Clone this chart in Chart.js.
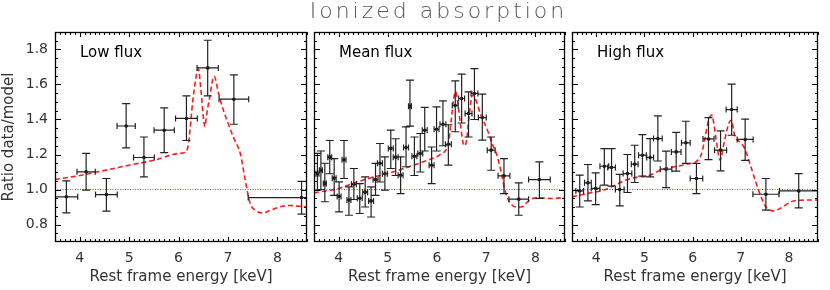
<!DOCTYPE html>
<html>
<head>
<meta charset="utf-8">
<script src="https://cdn.jsdelivr.net/npm/chart.js@4.4.1/dist/chart.umd.min.js"></script>
<style>
body{margin:0;background:#fff;width:830px;height:290px;position:relative;overflow:hidden;font-family:"DejaVu Sans",sans-serif}
#title{position:absolute;left:55px;width:767px;top:-2px;text-align:center;font-size:22px;letter-spacing:3px;color:#555;font-weight:300;will-change:transform}
canvas{position:absolute;top:0}
</style>
</head>
<body>
<div id="title">Ionized absorption</div>
<canvas id="p1" width="311" height="290" style="left:0"></canvas>
<canvas id="p2" width="259" height="290" style="left:310px"></canvas>
<canvas id="p3" width="254" height="290" style="left:568px"></canvas>
<script>
// ===== AXES =====
const xTicks=[4,5,6,7,8];
const yTicks=[0.8,1.0,1.2,1.4,1.6,1.8];
const xMin=3.5,xMax=8.6,yMin=0.7,yMax=1.9;
const unity=1.0;

// ===== LOW FLUX =====
const lowE =[3.73,4.13,4.54,4.94,5.30,5.71,6.16,6.59,7.12,8.49];
const lowR =[0.958,1.101,0.971,1.363,1.183,1.339,1.406,1.695,1.516,0.954];
const lowLo=[0.866,0.996,0.876,1.238,1.072,1.211,1.280,1.535,1.373,0.859];
const lowHi=[1.049,1.206,1.063,1.491,1.300,1.466,1.535,1.853,1.655,1.047];
const lowW =[0.23,0.185,0.22,0.185,0.21,0.205,0.22,0.215,0.30,1.08];
const lowModelE=[3.5,3.9,4.2,4.6,5.0,5.5,6.0,6.15,6.2,6.29,6.36,6.4,6.45,6.5,6.53,6.58,6.62,6.72,6.81,6.9,6.98,7.08,7.14,7.25,7.35,7.45,7.55,7.71,7.85,8.04,8.24,8.4,8.6];
const lowModelR=[1.057,1.075,1.091,1.115,1.139,1.167,1.206,1.215,1.26,1.51,1.65,1.69,1.58,1.42,1.36,1.45,1.51,1.647,1.549,1.46,1.396,1.32,1.28,1.206,1.053,0.92,0.882,0.866,0.88,0.9,0.909,0.905,0.9];

// ===== MEAN FLUX =====
const meanE =[3.57,3.64,3.72,3.82,3.91,4.01,4.11,4.21,4.31,4.43,4.54,4.66,4.75,4.84,4.94,5.06,5.16,5.26,5.37,5.45,5.54,5.66,5.75,5.89,5.99,6.12,6.23,6.37,6.50,6.64,6.76,6.92,7.10,7.36,7.66,8.08];
const meanR =[1.09,1.11,1.035,1.185,1.065,0.96,1.17,0.94,1.03,0.95,0.985,0.935,1.057,1.15,1.09,1.235,1.185,1.082,1.24,1.476,1.19,1.206,1.339,1.139,1.344,1.373,1.258,1.48,1.52,1.434,1.549,1.411,1.225,1.078,0.945,1.057];
const meanLo=[0.996,1.0,0.93,1.09,0.967,0.872,1.063,0.853,0.943,0.863,0.9,0.843,0.967,1.043,0.996,1.12,1.08,0.977,1.13,1.362,1.08,1.1,1.22,1.034,1.22,1.25,1.139,1.33,1.38,1.30,1.40,1.282,1.11,0.977,0.853,0.949];
const meanHi=[1.206,1.22,1.15,1.28,1.177,1.044,1.28,1.015,1.12,1.034,1.072,1.015,1.149,1.263,1.186,1.339,1.29,1.186,1.358,1.625,1.3,1.32,1.469,1.243,1.472,1.506,1.37,1.621,1.659,1.558,1.691,1.545,1.30,1.177,1.038,1.158];
const meanW =[0.03,0.03,0.03,0.04,0.04,0.04,0.04,0.04,0.05,0.05,0.05,0.05,0.05,0.05,0.05,0.05,0.05,0.05,0.05,0.03,0.05,0.05,0.05,0.05,0.05,0.06,0.06,0.06,0.06,0.07,0.07,0.08,0.08,0.12,0.2,0.22];
const meanModelE=[3.5,3.6,4.0,4.32,4.72,4.99,5.39,5.72,6.01,6.09,6.18,6.24,6.29,6.34,6.38,6.42,6.47,6.55,6.6,6.65,6.72,6.76,6.88,7.05,7.12,7.2,7.26,7.31,7.38,7.45,7.61,7.71,7.88,8.01,8.34,8.6];
const meanModelR=[0.98,0.986,1.006,1.038,1.072,1.091,1.126,1.158,1.19,1.206,1.225,1.28,1.4,1.52,1.56,1.5,1.386,1.25,1.28,1.415,1.54,1.53,1.434,1.32,1.26,1.21,1.15,1.091,0.996,0.939,0.9,0.9,0.94,0.952,0.949,0.954];

// ===== HIGH FLUX =====
const highE =[3.66,3.83,3.99,4.17,4.32,4.49,4.65,4.80,4.96,5.12,5.28,5.45,5.66,5.86,6.08,6.33,6.58,6.81,7.09,7.52,8.20];
const highR =[0.992,1.038,1.006,1.133,1.126,1.000,1.091,1.145,1.196,1.183,1.291,1.116,1.215,1.267,1.063,1.289,1.225,1.457,1.286,0.973,0.992];
const highLo=[0.90,0.935,0.914,1.025,1.019,0.906,0.983,1.04,1.076,1.072,1.163,1.011,1.105,1.149,0.977,1.171,1.106,1.31,1.167,0.882,0.895];
const highHi=[1.082,1.143,1.095,1.234,1.234,1.087,1.2,1.253,1.314,1.291,1.421,1.219,1.326,1.39,1.149,1.411,1.335,1.602,1.402,1.063,1.091];
const highW =[0.08,0.07,0.09,0.09,0.08,0.09,0.09,0.07,0.08,0.07,0.09,0.12,0.1,0.09,0.13,0.115,0.125,0.115,0.165,0.27,0.4];
const highModelE=[3.5,3.7,3.89,4.15,4.35,4.58,4.82,5.08,5.38,5.68,5.95,6.1,6.18,6.25,6.33,6.4,6.45,6.52,6.57,6.65,6.75,6.8,6.88,6.98,7.08,7.21,7.32,7.42,7.52,7.68,7.81,8.04,8.21,8.6];
const highModelR=[0.958,0.97,0.981,0.996,1.019,1.05,1.069,1.078,1.116,1.133,1.149,1.165,1.2,1.282,1.396,1.425,1.358,1.225,1.167,1.263,1.377,1.396,1.3,1.272,1.234,1.129,1.034,0.958,0.9,0.878,0.891,0.929,0.939,0.94];

// ===== FRAME, TICKS, ERROR BARS =====
const panelPlugin={
  id:'panel',
  afterDatasetsDraw(chart,args,opts){
    const {ctx,chartArea:a,scales:{x,y}}=chart;
    ctx.save();
    ctx.beginPath();ctx.rect(a.left,a.top,a.width,a.height);ctx.clip();
    chart.data.datasets.forEach(ds=>{
      if(!ds.errLo)return;
      ctx.strokeStyle='#222';ctx.lineWidth=1.2;ctx.beginPath();
      ds.data.forEach((p,i)=>{
        const px=x.getPixelForValue(p.x),py=y.getPixelForValue(p.y);
        const lo=y.getPixelForValue(ds.errLo[i]),hi=y.getPixelForValue(ds.errHi[i]);
        const xl=x.getPixelForValue(p.x-ds.errW[i]),xr=x.getPixelForValue(p.x+ds.errW[i]);
        ctx.moveTo(px,hi);ctx.lineTo(px,lo);
        ctx.moveTo(px-4,hi);ctx.lineTo(px+4,hi);
        ctx.moveTo(px-4,lo);ctx.lineTo(px+4,lo);
        ctx.moveTo(xl,py);ctx.lineTo(xr,py);
        ctx.moveTo(xl,py-3);ctx.lineTo(xl,py+3);
        ctx.moveTo(xr,py-3);ctx.lineTo(xr,py+3);
      });
      ctx.stroke();
    });
    ctx.restore();

    ctx.save();
    ctx.strokeStyle='#000';ctx.lineWidth=1.3;
    ctx.strokeRect(a.left+0.5,a.top+0.5,a.width-1,a.height-1);
    ctx.lineWidth=1.1;
    ctx.beginPath();
    for(let k=Math.ceil(xMin*10);k<=Math.floor(xMax*10);k++){
      const px=Math.round(x.getPixelForValue(k/10))+0.5;
      const len=k%10===0?5:3;
      ctx.moveTo(px,a.bottom);ctx.lineTo(px,a.bottom-len);
      ctx.moveTo(px,a.top);ctx.lineTo(px,a.top+len);
    }
    for(let k=Math.round(yMin*20)+1;k<Math.round(yMax*20);k++){
      const py=Math.round(y.getPixelForValue(k/20))+0.5;
      const len=k%4===0?6:3;
      ctx.moveTo(a.left,py);ctx.lineTo(a.left+len,py);
      ctx.moveTo(a.right,py);ctx.lineTo(a.right-len,py);
    }
    ctx.stroke();
    ctx.fillStyle='#000';ctx.font='15px "DejaVu Sans"';ctx.textBaseline='middle';
    ctx.fillText(opts.label,a.left+25,a.top+21);
    ctx.restore();
  }
};

function pts(xs,ys){return xs.map((v,i)=>({x:v,y:ys[i]}));}

function makePanel(id,label,E,R,Lo,Hi,W,mE,mR,showY){
  return new Chart(document.getElementById(id),{
    type:'scatter',
    data:{datasets:[
      {type:'line',data:[{x:xMin,y:unity},{x:xMax,y:unity}],borderColor:'#5a5ad2',borderWidth:1,borderDash:[1,1.5],pointRadius:0},
      {type:'line',data:pts(mE,mR),borderColor:'#ff1a1a',borderWidth:1.6,borderDash:[5,3],pointRadius:0,cubicInterpolationMode:'monotone'},
      {type:'scatter',data:pts(E,R),errLo:Lo,errHi:Hi,errW:W,pointRadius:1.8,pointBackgroundColor:'#000',pointBorderWidth:0}
    ]},
    options:{
      responsive:false,animation:false,devicePixelRatio:1,
      layout:{padding:{top:32,left:0,right:0,bottom:0}},
      plugins:{legend:{display:false},tooltip:{enabled:false},panel:{label:label}},
      scales:{
        x:{type:'linear',min:xMin,max:xMax,
          afterBuildTicks:s=>{s.ticks=xTicks.map(v=>({value:v}));},
          afterFit:s=>{s.height=48;},
          grid:{display:false,drawTicks:false},border:{display:false},
          ticks:{padding:8,font:{size:14},color:'#333',maxRotation:0,autoSkip:false,callback:v=>String(v)},
          title:{display:true,text:'Rest frame energy [keV]',font:{size:15},color:'#333',padding:{top:0,bottom:4}}},
        y:{type:'linear',display:showY,min:yMin,max:yMax,
          afterBuildTicks:s=>{s.ticks=yTicks.map(v=>({value:v}));},
          afterFit:s=>{s.width=showY?55:0;},
          grid:{display:false,drawTicks:false},border:{display:false},
          ticks:{padding:7,font:{size:14},color:'#333',callback:v=>v.toFixed(1)},
          title:{display:showY,text:'Ratio data/model',font:{size:15},color:'#333',padding:0}}
      }
    },
    plugins:[panelPlugin]
  });
}

Chart.defaults.font.family='"DejaVu Sans", sans-serif';
makePanel('p1','Low flux',lowE,lowR,lowLo,lowHi,lowW,lowModelE,lowModelR,true);
makePanel('p2','Mean flux',meanE,meanR,meanLo,meanHi,meanW,meanModelE,meanModelR,false);
makePanel('p3','High flux',highE,highR,highLo,highHi,highW,highModelE,highModelR,false);
</script>
</body>
</html>
